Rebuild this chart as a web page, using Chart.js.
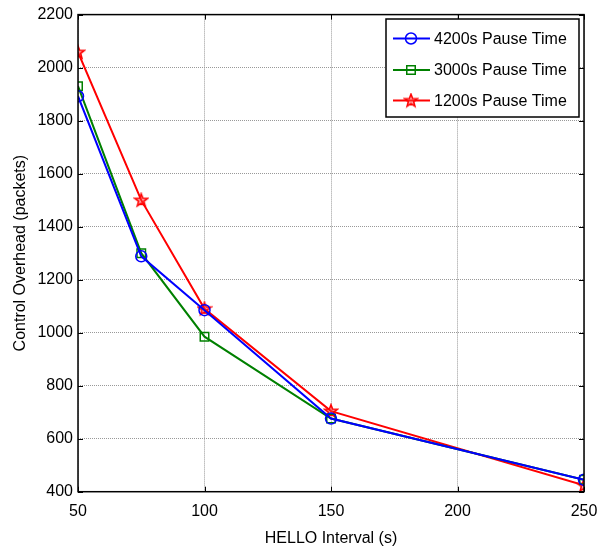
<!DOCTYPE html>
<html>
<head>
<meta charset="utf-8">
<script src="https://cdn.jsdelivr.net/npm/chart.js@4/dist/chart.umd.min.js"></script>
<style>
  body { margin: 0; background: #fff; }
  canvas { display: block; }
</style>
</head>
<body>
<canvas id="grafico" width="608" height="555"></canvas>
<script>
// valores
const intervalos = [50, 75, 100, 150, 250];
const pausa4200 = [1892, 1288, 1085, 676, 445];
const pausa3000 = [1930, 1300, 985, 676, 445];
const pausa1200 = [2058, 1500, 1090, 704, 424];
const rotulos = ['4200s Pause Time', '3000s Pause Time', '1200s Pause Time'];
const ticksX = [50, 100, 150, 200, 250];
const ticksY = [400, 600, 800, 1000, 1200, 1400, 1600, 1800, 2000, 2200];

const fonte = 'Liberation Sans, Arial, sans-serif';

// estrela de 5 pontas (pentagrama) para a série vermelha
function criarEstrela(cor) {
  const c = document.createElement('canvas');
  c.width = 16; c.height = 16;
  const g = c.getContext('2d');
  const cx = 8, cy = 8.3, rOut = 6.6, rIn = 2.8;
  g.beginPath();
  for (let i = 0; i < 10; i++) {
    const r = i % 2 == 0 ? rOut : rIn;
    const ang = -Math.PI / 2 + i * Math.PI / 5;
    const px = cx + r * Math.cos(ang);
    const py = cy + r * Math.sin(ang);
    if (i == 0) g.moveTo(px, py); else g.lineTo(px, py);
  }
  g.closePath();
  g.fillStyle = 'rgba(255,60,60,0.45)';
  g.fill();
  g.strokeStyle = cor;
  g.lineWidth = 1.6;
  g.stroke();
  return c;
}
const estrela = criarEstrela('#ff0000');

function pontos(valores) {
  return intervalos.map((x, i) => ({ x: x, y: valores[i] }));
}

const series = [
  { label: rotulos[0], data: pontos(pausa4200), borderColor: '#0000ff', pointStyle: 'circle', pointRadius: 5.5 },
  { label: rotulos[1], data: pontos(pausa3000), borderColor: '#008000', pointStyle: 'rect', pointRadius: 6 },
  { label: rotulos[2], data: pontos(pausa1200), borderColor: '#ff0000', pointStyle: estrela, pointRadius: 7 }
].map(s => Object.assign({
  borderWidth: 2,
  pointBorderColor: s.borderColor,
  pointBackgroundColor: 'rgba(0,0,0,0)',
  pointBorderWidth: 1.5,
  fill: false,
  tension: 0
}, s));

// caixa dos eixos, ticks para dentro e legenda no canto
const molduraPlugin = {
  id: 'moldura',
  afterDraw(chart) {
    const ctx = chart.ctx;
    const a = chart.chartArea;
    const sx = chart.scales.x, sy = chart.scales.y;
    ctx.save();
    ctx.strokeStyle = '#000';
    ctx.lineWidth = 1;
    ctx.beginPath();
    ticksX.forEach(v => {
      const px = Math.round(sx.getPixelForValue(v)) + 0.5;
      ctx.moveTo(px, a.bottom); ctx.lineTo(px, a.bottom - 5);
      ctx.moveTo(px, a.top); ctx.lineTo(px, a.top + 5);
    });
    ticksY.forEach(v => {
      const py = Math.round(sy.getPixelForValue(v)) + 0.5;
      ctx.moveTo(a.left, py); ctx.lineTo(a.left + 5, py);
      ctx.moveTo(a.right, py); ctx.lineTo(a.right - 5, py);
    });
    ctx.stroke();
    ctx.lineWidth = 1.5;
    ctx.strokeRect(a.left, a.top, a.right - a.left, a.bottom - a.top);

    // legenda
    const lx = 386, ly = 19, lw = 193, lh = 98;
    ctx.fillStyle = '#fff';
    ctx.fillRect(lx, ly, lw, lh);
    ctx.lineWidth = 1.5;
    ctx.strokeStyle = '#000';
    ctx.strokeRect(lx, ly, lw, lh);
    ctx.font = '16px ' + fonte;
    ctx.textBaseline = 'middle';
    ctx.textAlign = 'left';
    const linhas = [38.5, 70, 100.5];
    chart.data.datasets.forEach((ds, i) => {
      const y = linhas[i];
      ctx.strokeStyle = ds.borderColor;
      ctx.lineWidth = 2;
      ctx.beginPath();
      ctx.moveTo(393, y); ctx.lineTo(430, y);
      ctx.stroke();
      ctx.lineWidth = 1.5;
      ctx.fillStyle = 'rgba(0,0,0,0)';
      Chart.helpers.drawPoint(ctx, {
        pointStyle: ds.pointStyle,
        radius: ds.pointRadius,
        borderWidth: 1.5,
        rotation: 0
      }, 411, y);
      ctx.fillStyle = '#000';
      ctx.fillText(ds.label, 434, y + 1);
    });
    ctx.restore();
  }
};

const grade = {
  color: '#999',
  lineWidth: 1,
  drawTicks: false
};
const bordaGrade = { display: false, dash: [1, 1] };

new Chart(document.getElementById('grafico'), {
  type: 'line',
  data: { datasets: series },
  options: {
    responsive: false,
    animation: false,
    devicePixelRatio: 1,
    layout: { padding: { top: 9.5, right: 24, left: 0, bottom: 0 } },
    plugins: {
      legend: { display: false },
      tooltip: { enabled: false }
    },
    scales: {
      x: {
        type: 'linear',
        min: 50,
        max: 250,
        afterFit(scale) { scale.height = 63.3; },
        afterBuildTicks(scale) { scale.ticks = ticksX.map(v => ({ value: v })); },
        grid: grade,
        border: bordaGrade,
        ticks: { color: '#000', padding: 10, font: { family: fonte, size: 16 }, callback: v => String(v) },
        title: { display: true, text: 'HELLO Interval (s)', color: '#000', padding: { top: 0, bottom: 6.4 }, font: { family: fonte, size: 16 } }
      },
      y: {
        min: 400,
        max: 2200,
        afterFit(scale) { scale.width = 78; },
        afterBuildTicks(scale) { scale.ticks = ticksY.map(v => ({ value: v })); },
        grid: grade,
        border: bordaGrade,
        ticks: { color: '#000', padding: 5, font: { family: fonte, size: 16 }, callback: v => String(v) },
        title: { display: true, text: 'Control Overhead (packets)', color: '#000', padding: { top: 11.4, bottom: 0 }, font: { family: fonte, size: 16 } }
      }
    }
  },
  plugins: [molduraPlugin]
});
</script>
</body>
</html>
